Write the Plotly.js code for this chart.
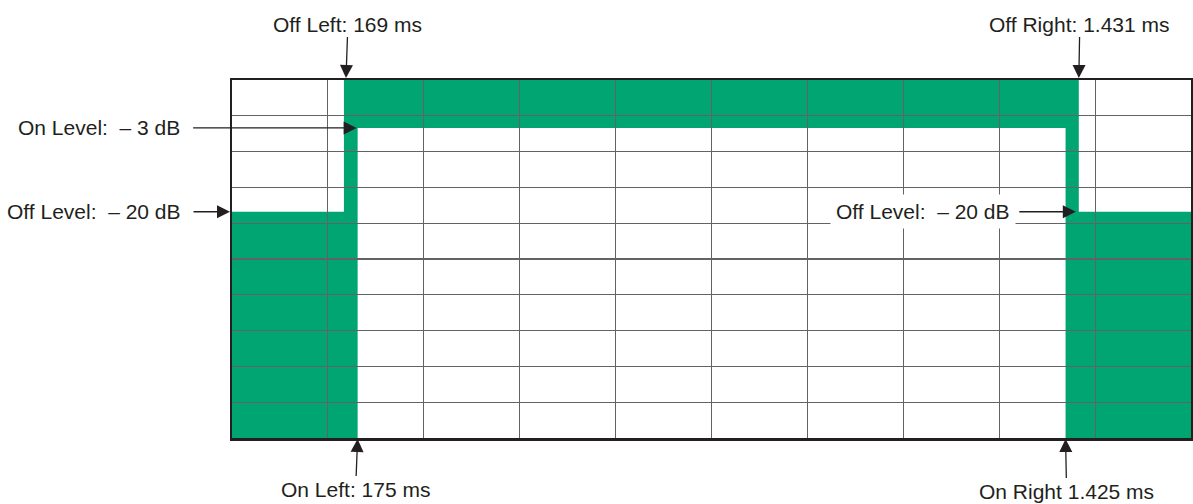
<!DOCTYPE html>
<html>
<head>
<meta charset="utf-8">
<script src="https://cdn.plot.ly/plotly-3.0.1.min.js"></script>
<style>html,body{margin:0;padding:0;background:#fff;}#chart{width:1193px;height:504px;}</style>
</head>
<body>
<div id="chart"></div>
<script>
// Screen is 10 x 10 graticule divisions
const gridDivisions = 10;
// Mask edges in divisions
const offLeftX = 1.167;
const onLeftX = 1.31;
const onRightX = 8.692;
const offRightX = 8.83;
const offLevelY = 6.32;
const onLevelY = 8.66;
// Mask outline (green area)
const maskX = [0, 0, offLeftX, offLeftX, offRightX, offRightX, gridDivisions, gridDivisions, onRightX, onRightX, onLeftX, onLeftX];
const maskY = [0, offLevelY, offLevelY, gridDivisions, gridDivisions, offLevelY, offLevelY, 0, 0, onLevelY, onLevelY, 0];
// Labels
const labelOffLeft = "Off Left: 169 ms";
const labelOffRight = "Off Right: 1.431 ms";
const labelOnLevel = "On Level:\u00a0 \u2013 3 dB";
const labelOffLevel = "Off Level:\u00a0 \u2013 20 dB";
const labelOnLeft = "On Left: 175 ms";
const labelOnRight = "On Right 1.425 ms";

const green = "#00a572";
const ink = "#231f20";
const font = {family: "'Liberation Sans', Arial, sans-serif", size: 21, color: ink};

let path = "";
for (let i = 0; i < maskX.length; i++) {
  path += (i === 0 ? "M" : "L") + maskX[i] + "," + maskY[i] + " ";
}
path += "Z";

function arrowAnn(text, x, y, ax, ay, extra) {
  return Object.assign({
    text: text, x: x, y: y, xref: "x", yref: "y", ax: ax, ay: ay,
    showarrow: true, arrowhead: 2, arrowsize: 2, arrowwidth: 1.3, arrowcolor: ink,
    standoff: 1, font: font
  }, extra || {});
}

const annotations = [
  arrowAnn(labelOffLeft, offLeftX, gridDivisions, 2, -56, {standoff: 2, xshift: 2}),
  arrowAnn(labelOffRight, offRightX, gridDivisions, 1, -56, {standoff: 2}),
  arrowAnn(labelOnLevel, onLeftX, onLevelY, -259, 0, {startstandoff: 12}),
  arrowAnn(labelOffLevel, 0, offLevelY, -138, 0, {startstandoff: 11, standoff: 2}),
  arrowAnn(labelOffLevel, offRightX, offLevelY, -156, 0, {startstandoff: 4, standoff: 3, bgcolor: "#ffffff", borderpad: 5}),
  arrowAnn(labelOnLeft, onLeftX, 0, -2, 51, {standoff: 1}),
  arrowAnn(labelOnRight, onRightX, 0, 1, 53, {standoff: 1})
];

const axisCommon = {
  range: [0, gridDivisions], dtick: 1, tick0: 0,
  showgrid: true, gridcolor: "#636363", gridwidth: 1.1,
  zeroline: false, showticklabels: false, ticks: "",
  showline: true, mirror: true, linecolor: ink, linewidth: 2.5,
  fixedrange: true
};

const layout = {
  width: 1193, height: 504,
  margin: {l: 232, r: 2, t: 80, b: 66, pad: 0},
  paper_bgcolor: "#ffffff", plot_bgcolor: "#ffffff",
  showlegend: false,
  xaxis: Object.assign({}, axisCommon),
  yaxis: Object.assign({}, axisCommon),
  shapes: [{
    type: "path", xref: "x", yref: "y", path: path,
    fillcolor: green, line: {width: 0}, layer: "below"
  }],
  annotations: annotations
};

const traces = [{
  type: "scatter", mode: "lines", x: maskX, y: maskY,
  line: {width: 0, color: green}, hoverinfo: "skip", showlegend: false
}];

Plotly.newPlot("chart", traces, layout, {displayModeBar: false, staticPlot: true});
</script>
</body>
</html>
